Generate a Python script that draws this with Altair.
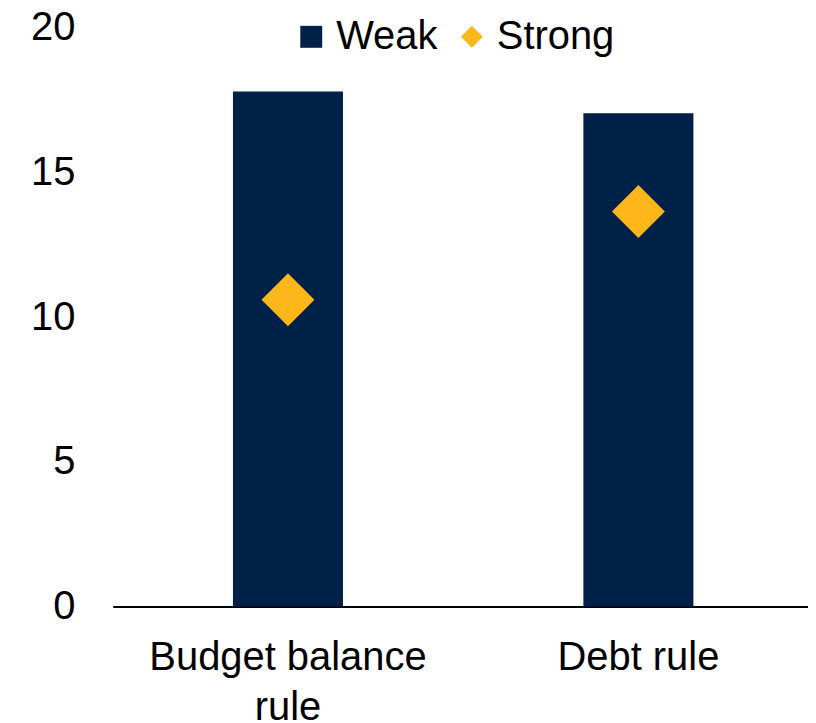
import altair as alt
import pandas as pd

categories = ["Budget balance rule", "Debt rule"]
weak_values = [17.8, 17.05]
strong_values = [10.6, 13.65]
series_names = ["Weak", "Strong"]
y_ticks = [0, 5, 10, 15, 20]

bars = pd.DataFrame({"category": categories, "value": weak_values, "series": "Weak"})
points = pd.DataFrame({"category": categories, "value": strong_values, "series": "Strong"})

NAVY = "#002147"
GOLD = "#FDB71A"
FONT = "Liberation Sans"

color_scale = alt.Scale(domain=series_names, range=[NAVY, GOLD])
shape_scale = alt.Scale(domain=series_names, range=["square", "diamond"])

x_enc = alt.X(
    "category:N",
    sort=categories,
    title=None,
    scale=alt.Scale(paddingInner=0.686, paddingOuter=0.335, align=0.512),
    axis=alt.Axis(
        labelAngle=0,
        ticks=False,
        domain=True,
        domainColor="#000000",
        domainWidth=2,
        grid=False,
        labelFont=FONT,
        labelFontSize=40,
        labelColor="#000000",
        labelPadding=31,
        labelLineHeight=50,
        labelLimit=0,
        labelExpr="datum.label == 'Budget balance rule' ? ['Budget balance', 'rule'] : datum.label",
    ),
)
y_scale = alt.Scale(domain=[0, 20], nice=False, zero=True)
y_axis = alt.Axis(
    values=y_ticks,
    ticks=False,
    domain=False,
    grid=False,
    labelFont=FONT,
    labelFontSize=40,
    labelColor="#000000",
    labelPadding=38,
)

legend = alt.Legend(
    title=None,
    orient="none",
    direction="horizontal",
    legendX=179,
    legendY=-11,
    labelFont=FONT,
    labelFontSize=40,
    labelColor="#000000",
    symbolSize=484,
    symbolStrokeWidth=0,
    labelOffset=5,
    columnPadding=14,
    padding=0,
)

bar_layer = alt.Chart(bars).mark_bar(color=NAVY).encode(
    x=x_enc,
    y=alt.Y("value:Q", scale=y_scale, axis=y_axis, title=None),
    color=alt.Color("series:N", scale=color_scale, legend=legend),
)

point_layer = alt.Chart(points).mark_point(filled=True, size=2809, opacity=1).encode(
    x=alt.X("category:N", sort=categories),
    y=alt.Y("value:Q", scale=y_scale),
    color=alt.Color("series:N", scale=color_scale, legend=legend),
    shape=alt.Shape("series:N", scale=shape_scale, legend=legend),
)

chart = (
    alt.layer(bar_layer, point_layer)
    .properties(
        width=697,
        height=580,
        background="#ffffff",
        autosize=alt.AutoSizeParams(type="none"),
        padding={"left": 105, "top": 19, "right": 0, "bottom": 115},
    )
    .configure_view(stroke="transparent", strokeWidth=0)
)

chart.save("out.html", embed_options={"renderer": "svg", "actions": False})
